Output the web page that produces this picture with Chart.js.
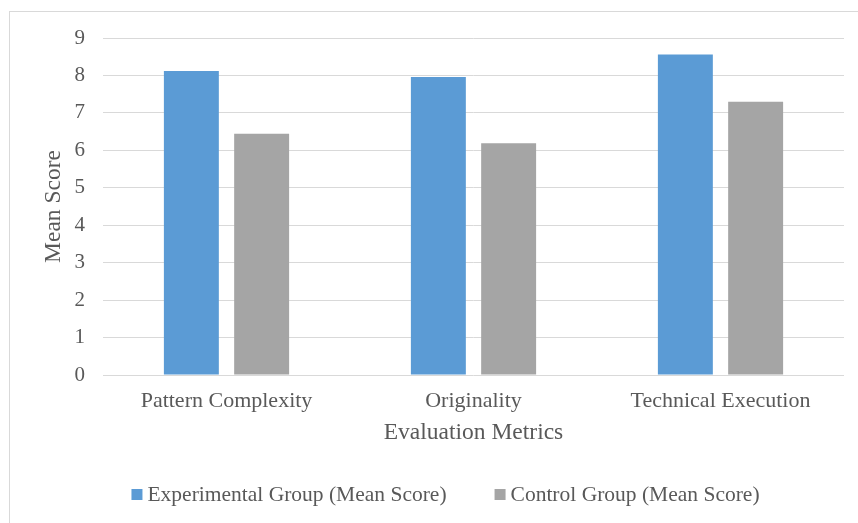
<!DOCTYPE html>
<html>
<head>
<meta charset="utf-8">
<style>
  html, body { margin: 0; padding: 0; background: #ffffff; }
  canvas { display: block; }
</style>
</head>
<body>
<canvas id="chart" width="858" height="523"></canvas>
<script src="https://cdn.jsdelivr.net/npm/chart.js@4/dist/chart.umd.min.js"></script>
<script>
// Mean scores per evaluation metric
const categories = ['Pattern Complexity', 'Originality', 'Technical Execution'];
const experimentalScores = [8.12, 7.96, 8.56];
const controlScores = [6.44, 6.19, 7.30];
const seriesLabels = ['Experimental Group (Mean Score)', 'Control Group (Mean Score)'];
const seriesColors = ['#5b9bd5', '#a5a5a5'];
const scoreTicks = [0, 1, 2, 3, 4, 5, 6, 7, 8, 9];

const FONT = '"Liberation Serif", "Times New Roman", serif';
const TEXT = '#595959';
const GRID = '#d9d9d9';

// Outer chart frame (runs past the right and bottom edges of the canvas)
const FRAME = { left: 9.5, top: 11.5, width: 872, height: 560 };

// Frame outline plus a compact legend centred in the frame
const frameAndLegend = {
  id: 'frameAndLegend',
  beforeDraw(chart) {
    const ctx = chart.ctx;
    ctx.save();
    ctx.fillStyle = '#ffffff';
    ctx.fillRect(0, 0, chart.width, chart.height);
    ctx.strokeStyle = GRID;
    ctx.lineWidth = 1;
    ctx.strokeRect(FRAME.left, FRAME.top, FRAME.width, FRAME.height);
    ctx.restore();
  },
  afterDraw(chart) {
    const ctx = chart.ctx;
    const box = 11, gap = 5, spacing = 48, y = 494.5;
    ctx.save();
    ctx.font = '21.5px ' + FONT;
    ctx.textBaseline = 'middle';
    ctx.textAlign = 'left';
    const items = chart.data.datasets.map(ds => ({
      text: ds.label,
      color: ds.backgroundColor,
      w: ctx.measureText(ds.label).width
    }));
    const total = items.reduce((s, it) => s + box + gap + it.w, 0) + spacing * (items.length - 1);
    let x = FRAME.left + FRAME.width / 2 - total / 2;
    items.forEach(it => {
      ctx.fillStyle = it.color;
      ctx.fillRect(x, y - box / 2, box, box);
      ctx.fillStyle = TEXT;
      ctx.fillText(it.text, x + box + gap, y + 1);
      x += box + gap + it.w + spacing;
    });
    ctx.restore();
  }
};

new Chart(document.getElementById('chart'), {
  type: 'bar',
  data: {
    labels: categories,
    datasets: [
      { label: seriesLabels[0], data: experimentalScores, backgroundColor: seriesColors[0] },
      { label: seriesLabels[1], data: controlScores, backgroundColor: seriesColors[1] }
    ]
  },
  options: {
    responsive: false,
    animation: false,
    devicePixelRatio: 1,
    layout: { padding: { left: 40, top: 38, right: 14, bottom: 76 } },
    datasets: {
      bar: { categoryPercentage: 0.569, barPercentage: 0.782, borderWidth: 0 }
    },
    plugins: {
      legend: { display: false },
      tooltip: { enabled: false }
    },
    scales: {
      x: {
        grid: { display: false, drawTicks: false },
        border: { display: false },
        ticks: { color: TEXT, font: { family: FONT, size: 22 }, padding: 13, maxRotation: 0 },
        title: {
          display: true, text: 'Evaluation Metrics', color: TEXT,
          font: { family: FONT, size: 23.5 }, padding: { top: 0, bottom: 0 }
        },
        afterFit(scale) { scale.height = 72; }
      },
      y: {
        min: 0, max: 9,
        afterBuildTicks(scale) { scale.ticks = scoreTicks.map(v => ({ value: v })); },
        grid: { color: GRID, lineWidth: 1, drawTicks: false },
        border: { display: false },
        ticks: { color: TEXT, font: { family: FONT, size: 21 }, padding: 18 },
        title: {
          display: true, text: 'Mean Score', color: TEXT,
          font: { family: FONT, size: 23.5 }, padding: { top: 0, bottom: 0 }
        },
        afterFit(scale) { scale.width = 63; }
      }
    }
  },
  plugins: [frameAndLegend]
});
</script>
</body>
</html>
